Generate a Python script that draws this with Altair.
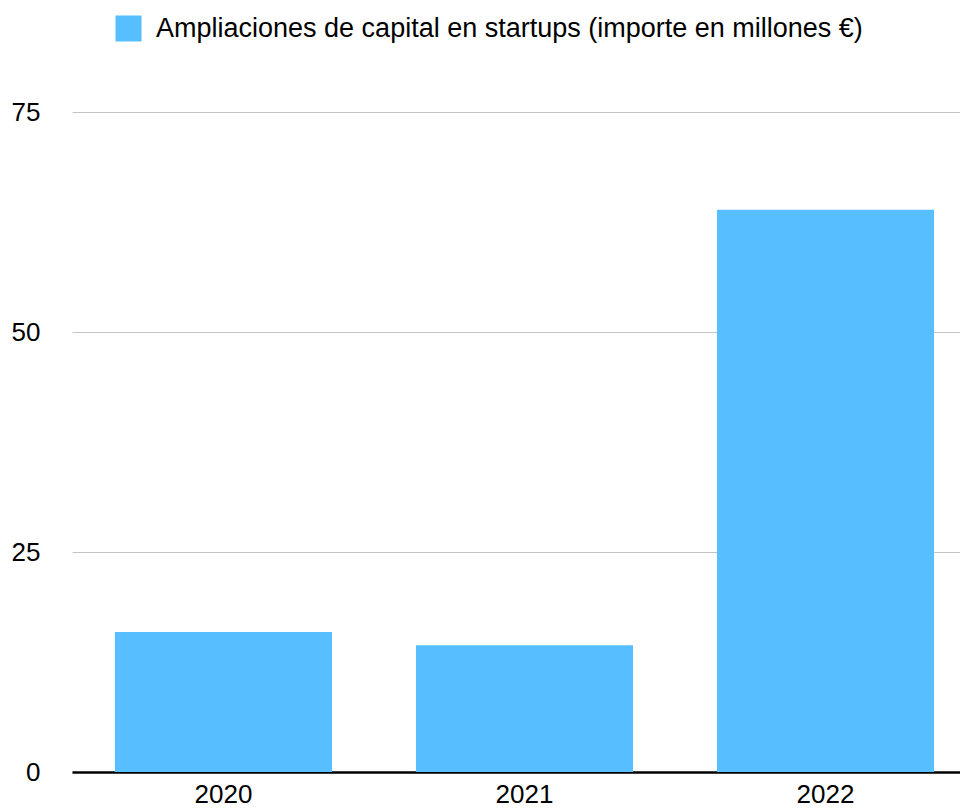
import altair as alt
import pandas as pd

years = ["2020", "2021", "2022"]
values = [15.9, 14.4, 63.9]
series = "Ampliaciones de capital en startups (importe en millones €)"

df = pd.DataFrame({"year": years, "value": values, "serie": [series] * 3})

FONT = "Liberation Sans"

chart = alt.Chart(df).mark_bar(color="#57BFFF").encode(
    x=alt.X("year:N", title=None,
            scale=alt.Scale(paddingInner=0.279, paddingOuter=0.1146, align=0.623),
            axis=alt.Axis(labelAngle=0, labelFontSize=26, labelFont=FONT, labelColor="#000",
                          ticks=False, domainColor="#000", domainWidth=2.5, labelPadding=9)),
    y=alt.Y("value:Q", title=None,
            scale=alt.Scale(domain=[0, 75]),
            axis=alt.Axis(values=[0, 25, 50, 75], labelFontSize=26, labelFont=FONT, labelColor="#000",
                          ticks=False, domain=False, gridColor="#c4c4c4", gridWidth=1,
                          labelPadding=32)),
    color=alt.Color("serie:N", scale=alt.Scale(range=["#57BFFF"]),
                    legend=alt.Legend(title=None, orient="none", legendX=43, legendY=-97,
                                      symbolType="square", symbolSize=676, symbolStrokeWidth=0,
                                      labelFontSize=27, labelFont=FONT, labelColor="#000",
                                      labelOffset=14, padding=0, labelLimit=900)),
).properties(
    width=888, height=660,
    autosize=alt.AutoSizeParams(type="none"),
    padding={"left": 64, "top": 104, "right": 0, "bottom": 38},
).configure_view(stroke=None)

chart.save("out.html", embed_options={"renderer": "svg", "actions": False})
